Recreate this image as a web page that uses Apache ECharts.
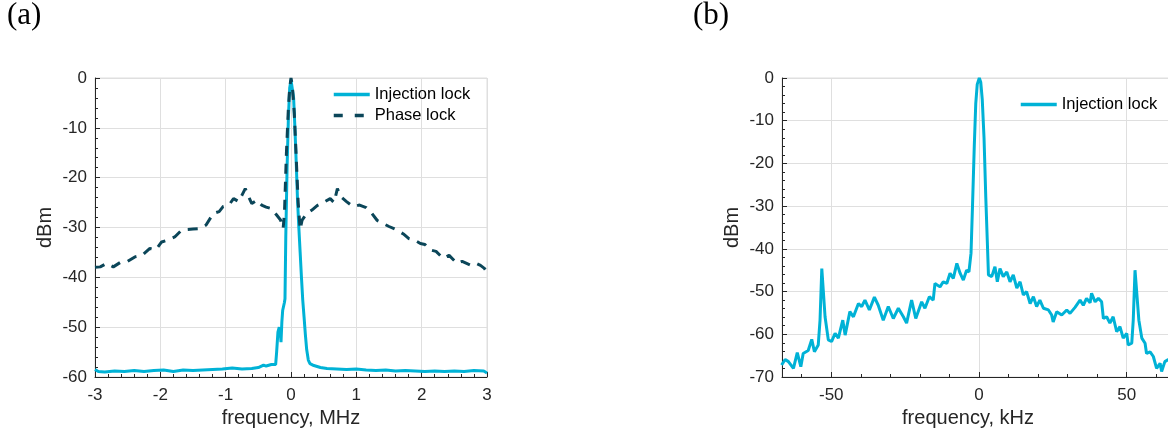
<!DOCTYPE html>
<html><head><meta charset="utf-8">
<script src="https://cdn.jsdelivr.net/npm/echarts@6/dist/echarts.min.js"></script>
<style>html,body{margin:0;padding:0;background:#fff;overflow:hidden}#c{width:1168px;height:433px}</style>
</head><body><div id="c"></div>
<script>
// ---- Panel (a): frequency in MHz, power in dBm ----
const freqA_inj = [-3,-2.95,-2.85,-2.7,-2.55,-2.4,-2.25,-2.1,-1.95,-1.8,-1.65,-1.5,-1.35,-1.2,-1.05,-0.9,-0.75,-0.6,-0.5,-0.42,-0.38,-0.3,-0.235,-0.22,-0.2,-0.18,-0.165,-0.153,-0.14,-0.127,-0.1,-0.092,-0.08,-0.06,-0.04,-0.02,0,0.01,0.02,0.04,0.06,0.08,0.1,0.12,0.14,0.16,0.18,0.2,0.22,0.24,0.265,0.29,0.35,0.45,0.55,0.7,0.85,1,1.15,1.3,1.45,1.6,1.75,1.9,2.05,2.2,2.35,2.5,2.65,2.8,2.95,3];
const dbmA_inj = [-58.5,-58.9,-59.0,-58.8,-58.9,-58.7,-58.9,-58.7,-58.6,-58.9,-58.6,-58.7,-58.6,-58.5,-58.4,-58.2,-58.4,-58.3,-58.1,-57.6,-57.8,-57.5,-57.5,-55,-51,-50,-51,-53,-49,-46.6,-45,-44.3,-32,-18,-8,-2,-0.4,0,-0.6,-4,-10,-17,-24.5,-30,-35,-40,-44.6,-48,-51.5,-54.5,-56.6,-57.3,-57.7,-58.1,-58.3,-58.4,-58.5,-58.4,-58.6,-58.7,-58.6,-58.8,-58.7,-58.8,-58.9,-58.8,-58.9,-58.8,-58.9,-58.7,-58.8,-59.2];
const freqA_phase = [-3,-2.92,-2.82,-2.72,-2.6,-2.5,-2.39,-2.28,-2.16,-2.07,-1.98,-1.88,-1.78,-1.68,-1.6,-1.5,-1.39,-1.3,-1.19,-1.1,-1.04,-0.95,-0.88,-0.8,-0.75,-0.7,-0.65,-0.6,-0.52,-0.45,-0.38,-0.3,-0.22,-0.16,-0.12,-0.1,-0.07,-0.04,-0.02,0,0.02,0.05,0.08,0.11,0.14,0.17,0.24,0.32,0.4,0.46,0.52,0.6,0.66,0.71,0.76,0.85,0.95,1.05,1.15,1.24,1.32,1.41,1.5,1.62,1.72,1.8,1.9,1.98,2.05,2.13,2.22,2.33,2.42,2.54,2.62,2.74,2.82,2.9,2.96,3];
const dbmA_phase = [-38,-37.9,-37.2,-37.9,-36.9,-36.8,-35.9,-35.6,-34.2,-34.5,-32.9,-32.5,-31.9,-30.6,-30.4,-30.3,-30.2,-29.5,-27.2,-26.8,-25.8,-25.5,-24.2,-24.8,-23.5,-22.2,-23.8,-25.2,-24.5,-25.5,-25.9,-26.2,-27.5,-28.5,-30.2,-27,-15,-6,-2,0,-1.5,-7,-16,-25,-30.4,-28.5,-27.2,-26.5,-25.6,-25.2,-24.8,-24.2,-25,-22.2,-23.8,-24.8,-25.8,-25.5,-26,-27.2,-28.6,-29.2,-29.8,-30.5,-31.3,-32.2,-32.6,-33.2,-33.4,-34.5,-34.8,-36.2,-35.6,-37.2,-36.8,-37.5,-37.1,-37.6,-38.2,-39];

// ---- Panel (b): frequency in kHz, power in dBm ----
const freqB_inj = [-66.8,-65.6,-64.5,-62.8,-61.5,-60.3,-59.5,-57.8,-56.6,-55.7,-54.4,-53.8,-53.2,-52.7,-52.1,-51,-49.9,-48.7,-47.6,-46.1,-45.3,-43.7,-42.5,-40.8,-39.7,-38.6,-37.1,-35.4,-34.1,-32.4,-30.7,-29,-27.3,-25.6,-24.5,-22.8,-21.4,-19.4,-18.3,-16.8,-15.5,-14.9,-13.2,-12.1,-10.9,-9.8,-8.7,-7.5,-6.4,-5.3,-4.2,-3.4,-2.7,-2.2,-1.6,-1.1,-0.6,0.1,0.6,1.1,1.7,2.3,2.8,3.2,4.3,5.4,6.2,7.1,8.2,9.4,10.5,11.6,12.8,13.9,15,16.1,17.3,18.4,19.5,20.6,21.8,23.5,24.6,25.1,26.3,28,29.7,30.8,32.5,34.2,35.3,36.4,37.6,38.1,39.3,40.4,41.5,42.1,43.2,44.3,45.4,46.6,47.7,48.8,50,50.5,51.7,52.2,52.8,53.4,54.1,55.1,56.2,56.7,57.9,59,60.1,61.3,61.8,62.9,63.9,65,66.7];
const dbmB_inj = [-67.2,-65.9,-66.4,-68,-64.3,-67.6,-64.5,-63.8,-61.2,-64.1,-62.5,-56.7,-44.6,-45,-55.9,-61.3,-61.7,-59.8,-60.9,-56.7,-60.2,-54.7,-55.9,-52.8,-53.5,-52,-54.3,-51.3,-53.2,-56.7,-53.5,-56.3,-53.9,-55.9,-57.4,-52,-56.3,-52.4,-53.9,-51.2,-52,-48.1,-48.9,-47.7,-48.1,-45.7,-46.9,-43.4,-45.7,-47.3,-45,-45.4,-41,-30,-16,-6,-1.5,0,-1,-5,-14,-28,-38,-46.1,-46.5,-44.2,-47.7,-44.6,-46.5,-45.4,-47.7,-46.1,-49.2,-47.7,-50.8,-50,-52.8,-51.2,-53.5,-52,-53.9,-54.3,-55.5,-57.1,-54.7,-55.5,-54.3,-55.1,-53.7,-52,-53.2,-51.6,-52.6,-50.4,-52.4,-51.6,-52.4,-56.3,-55.9,-57.4,-55.9,-59.4,-58.2,-60.9,-59.8,-62.5,-62.1,-56.7,-45,-45,-56.7,-60.9,-62.1,-64.5,-64.1,-65.2,-68,-66.8,-68.7,-66.4,-66,-65.5,-65.8];

const xTicksB = [-50, 0, 50];

const zip = (xs, ys) => xs.map((x, i) => [x, ys[i]]);
const AX = '#262626', GRIDC = '#dfdfdf';
const FONT = 'Liberation Sans, Arial, sans-serif';
const CYAN = '#00B2D6', DARK = '#0B4659';

function valueAxis(extra) {
  return Object.assign({
    type: 'value',
    axisLine: { show: true, onZero: false, lineStyle: { color: AX, width: 1 } },
    axisTick: { show: true, inside: true, length: 5, lineStyle: { color: AX } },
    minorTick: { show: true, splitNumber: 5, length: 3, lineStyle: { color: AX } },
    splitLine: { show: true, lineStyle: { color: GRIDC, width: 1 } },
    nameTextStyle: { color: AX, fontSize: 20, fontFamily: FONT }
  }, extra);
}
const xLab = { color: AX, fontSize: 17, fontFamily: FONT, margin: 10 };
const yLab = { color: AX, fontSize: 17, fontFamily: FONT, margin: 8 };

const chart = echarts.init(document.getElementById('c'), null, { renderer: 'canvas' });
chart.setOption({
  animation: false,
  backgroundColor: '#fff',
  grid: [
    { left: 95, top: 78, width: 392, height: 299, show: true, borderColor: GRIDC, borderWidth: 1, containLabel: false, outerBoundsMode: 'none' },
    { left: 782, top: 78, width: 394, height: 299, show: true, borderColor: GRIDC, borderWidth: 1, containLabel: false, outerBoundsMode: 'none' }
  ],
  xAxis: [
    valueAxis({ gridIndex: 0, min: -3, max: 3, interval: 1, name: 'frequency, MHz', nameLocation: 'middle', nameGap: 30,
      axisLabel: xLab }),
    valueAxis({ gridIndex: 1, min: -66.67, max: 66.67, minInterval: 50, maxInterval: 50, splitNumber: 3,
      name: 'frequency, kHz', nameLocation: 'middle', nameGap: 30,
      nameTextStyle: { color: AX, fontSize: 20, fontFamily: FONT, padding: [0, 22, 0, 0] },
      axisLabel: Object.assign({}, xLab, { showMinLabel: false, showMaxLabel: false,
        formatter: v => (xTicksB.some(t => Math.abs(t - v) < 1e-6) ? String(v) : '') }) })
  ],
  yAxis: [
    valueAxis({ gridIndex: 0, min: -60, max: 0, interval: 10, name: 'dBm', nameLocation: 'middle', nameGap: 40, nameRotate: 90,
      axisLabel: yLab }),
    valueAxis({ gridIndex: 1, min: -70, max: 0, interval: 10, name: 'dBm', nameLocation: 'middle', nameGap: 40, nameRotate: 90,
      axisLabel: yLab })
  ],
  legend: [
    { left: 332, top: 86, padding: 0, orient: 'vertical', itemWidth: 36, itemHeight: 14, itemGap: 4,
      itemStyle: { opacity: 0 }, lineStyle: { width: 3.5 },
      data: [{ name: 'Injection lock', lineStyle: { width: 3.5 } }, { name: 'Phase lock', lineStyle: { type: [9, 12], width: 3.5 } }],
      textStyle: { color: '#000', fontSize: 16.5, fontFamily: FONT } },
    { left: 1019, top: 96, padding: 0, orient: 'vertical', itemWidth: 36, itemHeight: 14,
      itemStyle: { opacity: 0 }, lineStyle: { width: 3.5 },
      data: [{ name: 'Injection lock ', lineStyle: { width: 3.5 } }],
      textStyle: { color: '#000', fontSize: 16.5, fontFamily: FONT } }
  ],
  series: [
    { name: 'Injection lock', type: 'line', xAxisIndex: 0, yAxisIndex: 0, symbol: 'none', showSymbol: false,
      data: zip(freqA_inj, dbmA_inj), lineStyle: { color: CYAN, width: 3 }, itemStyle: { color: CYAN } },
    { name: 'Phase lock', type: 'line', xAxisIndex: 0, yAxisIndex: 0, symbol: 'none', showSymbol: false,
      data: zip(freqA_phase, dbmA_phase), lineStyle: { color: DARK, width: 3, type: [10, 8] }, itemStyle: { color: DARK } },
    { name: 'Injection lock ', type: 'line', xAxisIndex: 1, yAxisIndex: 1, symbol: 'none', showSymbol: false,
      data: zip(freqB_inj, dbmB_inj), lineStyle: { color: CYAN, width: 3 }, itemStyle: { color: CYAN } }
  ],
  graphic: [
    { type: 'text', left: 7, top: 0, style: { text: '(a)', font: '31px "Liberation Serif", serif', fill: '#000' } },
    { type: 'text', left: 693, top: 0, style: { text: '(b)', font: '31px "Liberation Serif", serif', fill: '#000' } }
  ]
});
</script></body></html>
